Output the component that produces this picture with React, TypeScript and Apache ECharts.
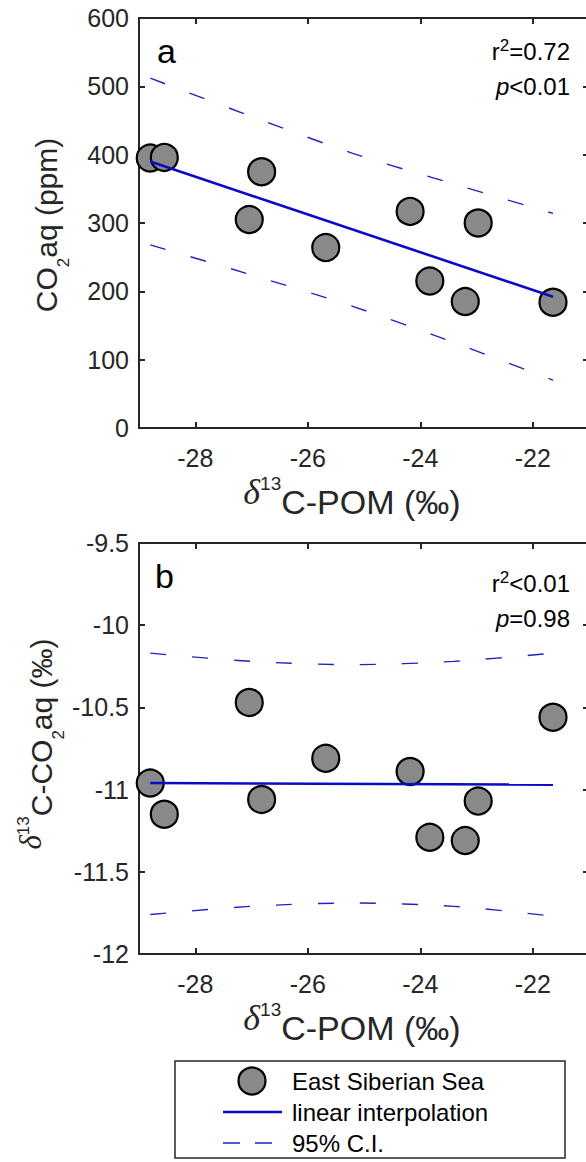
import React, { useEffect, useRef } from "react";
import * as echarts from "echarts";

// ---- data ----
const pomX = [-28.8, -28.55, -27.04, -26.82, -25.68, -24.18, -23.83, -23.2, -22.97, -21.64];
const co2aq = [395, 396, 305, 375, 264, 317, 215, 185, 300, 184];
const d13cCo2aq = [-10.96, -11.15, -10.47, -11.06, -10.81, -10.89, -11.29, -11.31, -11.07, -10.56];

const fitX = [-28.8, -21.64];
const fitA = [390, 192];
const fitB = [-10.96, -10.97];

const ciX = [-28.8, -27.0, -25.2, -23.4, -21.64];
const ciUpperA = [512, 456, 402, 357, 314];
const ciLowerA = [268, 224, 178, 125, 70];
const ciUpperB = [-10.17, -10.22, -10.24, -10.22, -10.17];
const ciLowerB = [-11.76, -11.71, -11.69, -11.71, -11.77];

const xTicks = [-28, -26, -24, -22];
const statsA = ["0.72", "0.01"];
const statsB = ["0.01", "0.98"];
const legendNames = ["East Siberian Sea", "linear interpolation", "95% C.I."];

const SANS = '"Liberation Sans", Arial, Helvetica, sans-serif';
const SERIF = '"Liberation Serif", "DejaVu Serif", serif';
const AXC = "#262626";
const BLUE = "#0a0ac8";
const CIBLUE = "#2222c4";
const GRAY = "#898989";
const TICKF = 25;

const pts = (xs: number[], ys: number[]) => xs.map((x, i) => [x, ys[i]]);

function xAxisCfg(gridIndex: number, top: boolean) {
  return {
    type: "value",
    gridIndex,
    min: -29,
    max: -21,
    position: top ? "top" : "bottom",
    axisLine: { show: true, onZero: false, lineStyle: { color: AXC, width: 2 } },
    axisTick: { show: true, inside: true, length: 6, customValues: xTicks, lineStyle: { color: AXC, width: 2 } },
    axisLabel: {
      show: !top,
      customValues: xTicks,
      margin: 17,
      color: AXC,
      fontSize: TICKF,
      fontFamily: SANS,
    },
    splitLine: { show: false },
  };
}

function yAxisCfg(gridIndex: number, right: boolean, min: number, max: number, interval: number) {
  return {
    type: "value",
    gridIndex,
    min,
    max,
    interval,
    position: right ? "right" : "left",
    axisLine: { show: true, onZero: false, lineStyle: { color: AXC, width: 2 } },
    axisTick: { show: true, inside: true, length: 6, lineStyle: { color: AXC, width: 2 } },
    axisLabel: { show: !right, margin: 10, color: AXC, fontSize: TICKF, fontFamily: SANS },
    splitLine: { show: false },
  };
}

function scatterSeries(idx: number, ys: number[]) {
  return {
    type: "scatter",
    xAxisIndex: idx,
    yAxisIndex: idx,
    data: pts(pomX, ys),
    symbol: "circle",
    symbolSize: 27,
    itemStyle: { color: GRAY, borderColor: "#000", borderWidth: 2.2, opacity: 1 },
    z: 2,
    silent: true,
  };
}

function lineSeries(idx: number, xs: number[], ys: number[], dashed: boolean) {
  return {
    type: "line",
    xAxisIndex: idx,
    yAxisIndex: idx,
    data: pts(xs, ys),
    symbol: "none",
    showSymbol: false,
    smooth: dashed ? 0.3 : false,
    lineStyle: dashed
      ? { color: CIBLUE, width: 1.4, type: [16, 26] }
      : { color: BLUE, width: 2.6 },
    z: dashed ? 3 : 4,
    silent: true,
  };
}

const statRich = {
  a: { fontSize: 24, fontFamily: SANS, lineHeight: 30, fill: "#000" },
  i: { fontSize: 24, fontFamily: SANS, fontStyle: "italic", lineHeight: 30, fill: "#000" },
  s: { fontSize: 17, fontFamily: SANS, lineHeight: 14, verticalAlign: "top", fill: "#000" },
};

function statText(x: number, y: number, text: string) {
  return {
    type: "text",
    x,
    y,
    silent: true,
    style: { text, rich: statRich, align: "right", verticalAlign: "top" },
  };
}

const xNameRich = {
  d: { fontSize: 36, fontFamily: SERIF, fontStyle: "italic", lineHeight: 33, verticalAlign: "top", fill: AXC },
  s: { fontSize: 19, fontFamily: SANS, lineHeight: 16, verticalAlign: "top", fill: AXC },
  m: { fontSize: 34, fontFamily: SANS, lineHeight: 56, fill: AXC },
};

const yNameRich = {
  d: { fontSize: 31, fontFamily: SERIF, fontStyle: "italic", lineHeight: 44, verticalAlign: "top", fill: AXC },
  s: { fontSize: 17, fontFamily: SANS, lineHeight: 14, verticalAlign: "top", fill: AXC },
  b: { fontSize: 17, fontFamily: SANS, lineHeight: 14, verticalAlign: "bottom", fill: AXC },
  m: { fontSize: 30, fontFamily: SANS, lineHeight: 52, fill: AXC },
};

export default function App() {
  const ref = useRef<HTMLDivElement>(null);

  useEffect(() => {
    const chart = echarts.init(ref.current!, null, { renderer: "svg" });

    const graphic: any[] = [
      // panel letters
      { type: "text", x: 157, y: 63 - 0.347 * 34, silent: true,
        style: { text: "a", font: `34px ${SANS}`, fill: "#000", align: "left", verticalAlign: "middle" } },
      { type: "text", x: 155, y: 588 - 0.347 * 34, silent: true,
        style: { text: "b", font: `34px ${SANS}`, fill: "#000", align: "left", verticalAlign: "middle" } },
      // statistics
      statText(570, 36.7, `{a|r}{s|2}{a|=${statsA[0]}}`),
      statText(570, 71.7, `{i|p}{a|<${statsA[1]}}`),
      statText(570, 568.7, `{a|r}{s|2}{a|<${statsB[0]}}`),
      statText(570, 603.7, `{i|p}{a|=${statsB[1]}}`),
      // x axis names
      { type: "text", x: 352, y: 474, silent: true,
        style: { text: "{d|δ}{s|13}{m|C-POM (‰)}", rich: xNameRich, align: "center", verticalAlign: "top" } },
      { type: "text", x: 352, y: 1000, silent: true,
        style: { text: "{d|δ}{s|13}{m|C-POM (‰)}", rich: xNameRich, align: "center", verticalAlign: "top" } },
      // y axis names
      { type: "text", x: 20, y: 225, rotation: Math.PI / 2, silent: true,
        style: { text: "{m|CO}{b|2}{m|aq (ppm)}", rich: yNameRich, align: "center", verticalAlign: "top" } },
      { type: "text", x: 15, y: 744, rotation: Math.PI / 2, silent: true,
        style: { text: "{d|δ}{s|13}{m|C-CO}{b|2}{m|aq (‰)}", rich: yNameRich, align: "center", verticalAlign: "top" } },
      // legend
      { type: "rect", silent: true, shape: { x: 175, y: 1061, width: 390, height: 97 },
        style: { fill: "#fff", stroke: AXC, lineWidth: 1.5 } },
      { type: "circle", silent: true, shape: { cx: 252, cy: 1081, r: 13.5 },
        style: { fill: GRAY, stroke: "#000", lineWidth: 2.2 } },
      { type: "line", silent: true, shape: { x1: 223, y1: 1112, x2: 282, y2: 1112 },
        style: { stroke: BLUE, lineWidth: 2.6 } },
      { type: "line", silent: true, shape: { x1: 223, y1: 1143, x2: 273, y2: 1143 },
        style: { stroke: CIBLUE, lineWidth: 1.4, lineDash: [17, 15] } },
      ...legendNames.map((t, i) => ({
        type: "text",
        x: 292,
        y: [1081, 1112, 1143][i],
        silent: true,
        style: { text: t, font: `24px ${SANS}`, fill: "#000", align: "left", verticalAlign: "middle" },
      })),
    ];

    const option: any = {
      animation: false,
      backgroundColor: "#fff",
      grid: [
        { left: 139, top: 18, width: 450, height: 410, outerBoundsMode: "none", containLabel: false },
        { left: 139, top: 543, width: 450, height: 411, outerBoundsMode: "none", containLabel: false },
      ],
      xAxis: [xAxisCfg(0, false), xAxisCfg(1, false), xAxisCfg(0, true), xAxisCfg(1, true)],
      yAxis: [
        yAxisCfg(0, false, 0, 600, 100),
        yAxisCfg(1, false, -12, -9.5, 0.5),
        yAxisCfg(0, true, 0, 600, 100),
        yAxisCfg(1, true, -12, -9.5, 0.5),
      ],
      series: [
        scatterSeries(0, co2aq),
        lineSeries(0, fitX, fitA, false),
        lineSeries(0, ciX, ciUpperA, true),
        lineSeries(0, ciX, ciLowerA, true),
        scatterSeries(1, d13cCo2aq),
        lineSeries(1, fitX, fitB, false),
        lineSeries(1, ciX, ciUpperB, true),
        lineSeries(1, ciX, ciLowerB, true),
      ],
      graphic,
    };

    chart.setOption(option);
    return () => chart.dispose();
  }, []);

  return (
    <div
      ref={ref}
      style={{ position: "absolute", left: 0, top: 0, width: 586, height: 1162, background: "#fff" }}
    />
  );
}
